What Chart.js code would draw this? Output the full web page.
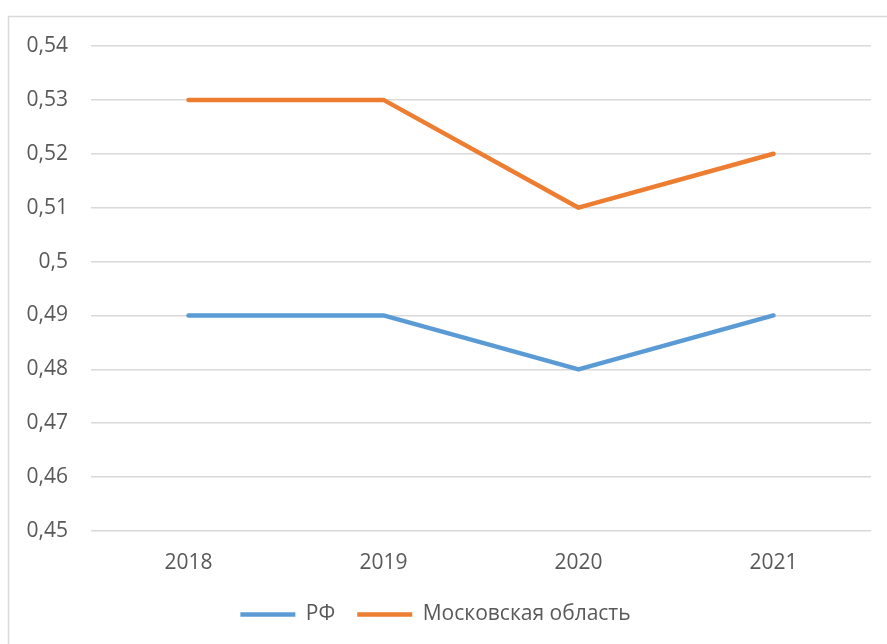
<!DOCTYPE html>
<html>
<head>
<meta charset="utf-8">
<script src="https://cdn.jsdelivr.net/npm/chart.js@4.4.1/dist/chart.umd.min.js"></script>
<style>
  html, body { margin: 0; padding: 0; background: #fff; }
  #wrap { width: 887px; height: 644px; position: relative; }
</style>
</head>
<body>
<div id="wrap"><canvas id="chart"></canvas></div>
<script>
// Данные графика
const years = ['2018', '2019', '2020', '2021'];
const rfValues = [0.49, 0.49, 0.48, 0.49];
const moscowValues = [0.53, 0.53, 0.51, 0.52];
const seriesNames = ['РФ', 'Московская область'];

const textColor = '#595959';
const gridColor = '#d9d9d9';
const fontFamily = '"Open Sans", "Liberation Sans", sans-serif';

// Рамка области диаграммы (как в Excel)
const frame = {
    id: 'frame',
    beforeDraw(chart) {
        const ctx = chart.ctx;
        ctx.save();
        ctx.fillStyle = '#fff';
        ctx.fillRect(0, 0, chart.width, chart.height);
        ctx.strokeStyle = gridColor;
        ctx.lineWidth = 1.5;
        ctx.strokeRect(8.5, 16.5, chart.width + 20, chart.height + 20);
        ctx.restore();
    }
};

const lineStyle = { borderWidth: 4.5, tension: 0, borderCapStyle: 'round', borderJoinStyle: 'round', pointRadius: 0, pointHoverRadius: 0 };

new Chart(document.getElementById('chart'), {
    type: 'line',
    data: {
        labels: years,
        datasets: [
            { label: seriesNames[0], data: rfValues, borderColor: '#5b9bd5', backgroundColor: '#5b9bd5', ...lineStyle },
            { label: seriesNames[1], data: moscowValues, borderColor: '#ed7d31', backgroundColor: '#ed7d31', ...lineStyle }
        ]
    },
    options: {
        responsive: true,
        maintainAspectRatio: false,
        animation: false,
        devicePixelRatio: 1,
        layout: { padding: { left: 0, right: 16, top: 46, bottom: 9 } },
        scales: {
            x: {
                offset: true,
                grid: { display: false, drawTicks: false },
                border: { display: false },
                ticks: { color: textColor, font: { family: fontFamily, size: 21 }, padding: 19 },
                afterFit(scale) { scale.height = 51; }
            },
            y: {
                min: 0.45,
                max: 0.54,
                grid: { color: gridColor, lineWidth: 1.5, drawTicks: false },
                border: { display: false },
                ticks: {
                    stepSize: 0.01,
                    color: textColor,
                    padding: 23,
                    font: { family: fontFamily, size: 21 },
                    callback: v => parseFloat(v.toFixed(2)).toString().replace('.', ',')
                },
                afterFit(scale) { scale.width = 91; }
            }
        },
        plugins: {
            legend: {
                position: 'bottom',
                labels: {
                    usePointStyle: true,
                    pointStyle: 'line',
                    pointStyleWidth: 55,
                    color: textColor,
                    padding: 22,
                    font: { family: fontFamily, size: 21 }
                }
            },
            tooltip: { enabled: false }
        }
    },
    plugins: [frame]
});
</script>
</body>
</html>
